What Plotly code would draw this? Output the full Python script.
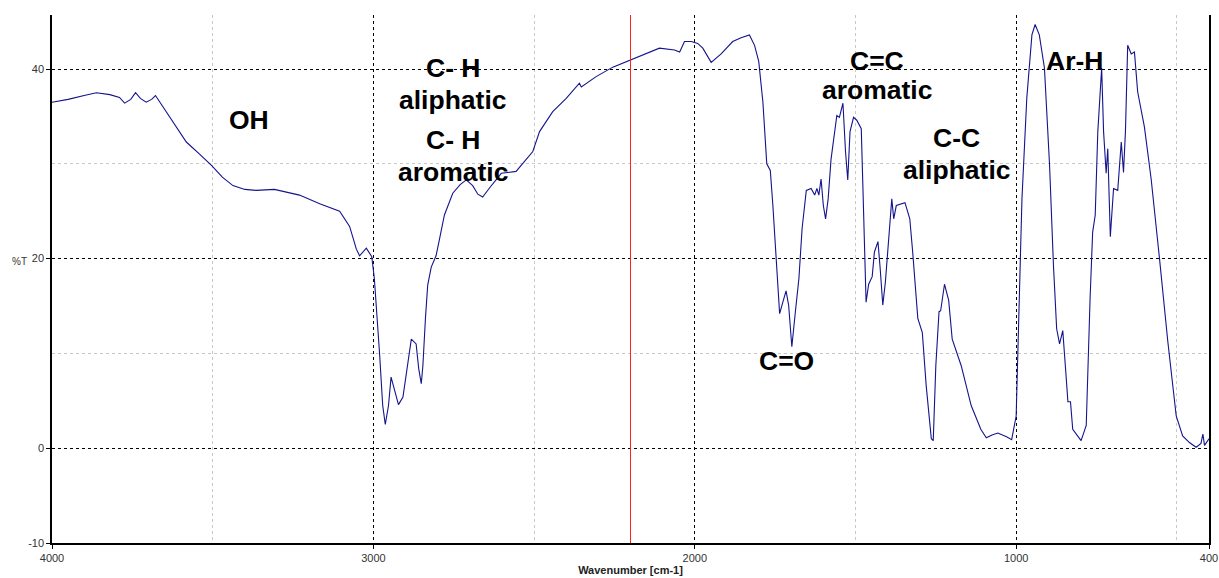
import plotly.graph_objects as go

# ---- data ----
wavenumber = [
    4000, 3950, 3900, 3862, 3820, 3790, 3774, 3755, 3740, 3725, 3707, 3690, 3678, 3660,
    3645, 3620, 3600, 3582, 3540, 3503, 3470, 3437, 3400, 3365, 3308, 3270, 3230, 3167,
    3105, 3074, 3053, 3043, 3022, 3005, 2997, 2981, 2971, 2963, 2953, 2945, 2937, 2922,
    2908, 2898, 2882, 2867, 2859, 2851, 2846, 2838, 2831, 2820, 2805, 2794, 2779, 2753,
    2730, 2711, 2691, 2675, 2660, 2640, 2618, 2602, 2556, 2530, 2504, 2483, 2442, 2400,
    2359, 2353, 2307, 2255, 2203, 2151, 2110, 2063, 2047, 2032, 2011, 1991, 1975, 1949,
    1918, 1882, 1856, 1830, 1814, 1801, 1788, 1776, 1765, 1757, 1746, 1736, 1726, 1716,
    1708, 1698, 1687, 1676, 1666, 1653, 1638, 1627, 1620, 1614, 1607, 1600, 1593, 1585,
    1576, 1565, 1558, 1550, 1539, 1531, 1524, 1517, 1506, 1496, 1482, 1477, 1472, 1467,
    1459, 1448, 1441, 1430, 1423, 1415, 1407, 1396, 1387, 1381, 1373, 1346, 1331, 1322,
    1306, 1292, 1280, 1264, 1258, 1250, 1240, 1235, 1223, 1210, 1199, 1171, 1140, 1110,
    1093, 1075, 1057, 1030, 1014, 1000, 993, 982, 967, 951, 941, 928, 912, 896, 884, 874,
    865, 855, 847, 839, 831, 824, 798, 782, 770, 762, 754, 746, 734, 728, 720, 715, 707,
    697, 684, 673, 666, 660, 653, 642, 632, 622, 601, 580, 554, 528, 502, 482, 461, 440,
    425, 419, 414, 405, 400,
]
transmittance = [
    36.5, 36.8, 37.2, 37.5, 37.3, 37.0, 36.4, 36.8, 37.5, 36.9, 36.5, 36.8, 37.2, 36.3,
    35.5, 34.2, 33.2, 32.3, 31.0, 29.8, 28.6, 27.7, 27.3, 27.2, 27.3, 27.0, 26.7, 25.8,
    25.0, 23.4, 21.0, 20.3, 21.1, 20.2, 17.9, 10.1, 4.5, 2.5, 4.5, 7.5, 6.4, 4.6,
    5.4, 7.7, 11.5, 11.0, 8.4, 6.8, 8.7, 13.7, 17.2, 19.1, 20.3, 22.1, 24.6, 26.9,
    27.8, 28.3, 27.7, 26.8, 26.5, 27.4, 28.3, 29.0, 29.2, 30.2, 31.3, 33.4, 35.5, 36.9,
    38.5, 38.1, 39.2, 40.2, 40.9, 41.6, 42.2, 42.0, 41.8, 42.9, 42.9, 42.7, 42.2, 40.7,
    41.6, 42.9, 43.3, 43.6, 42.5, 40.8, 36.5, 30.0, 29.3, 25.6, 19.6, 14.2, 15.4, 16.6,
    15.1, 10.7, 14.4, 17.9, 23.2, 27.2, 27.4, 26.7, 27.4, 26.7, 28.4, 25.6, 24.2, 26.3,
    30.5, 33.7, 35.1, 34.9, 36.4, 31.3, 28.3, 33.4, 34.9, 34.6, 33.7, 27.7, 20.0, 15.4,
    17.3, 18.1, 20.7, 21.8, 18.9, 15.1, 17.5, 22.1, 26.3, 24.2, 25.6, 25.9, 24.2, 20.7,
    13.7, 12.2, 6.6, 1.0, 0.8, 8.7, 14.4, 14.5, 17.3, 15.6, 11.5, 8.7, 4.5, 2.0,
    1.1, 1.4, 1.6, 1.2, 0.9, 3.4, 12.2, 26.3, 36.9, 43.6, 44.7, 43.6, 40.1, 29.8, 19.3, 12.6,
    11.0, 12.4, 8.7, 4.9, 4.9, 2.0, 0.8, 2.4, 15.8, 22.8, 24.6, 33.4, 40.1, 33.4, 29.0, 31.6, 22.3,
    27.4, 27.2, 32.3, 29.1, 33.4, 42.5, 41.6, 41.8, 37.6, 33.9, 28.4, 20.0, 11.2, 3.4, 1.3, 0.6, 0.1,
    0.5, 1.5, 0.3, 0.8, 1.0,
]

# band labels (one entry per text line)
label_text = ["OH", "C- H", "aliphatic", "C- H", "aromatic", "C=C", "aromatic",
              "C=O", "C-C", "aliphatic", "Ar-H"]
label_wn = [3386, 2751, 2751, 2751, 2751, 1434, 1434, 1716, 1185, 1185, 819]
label_t = [34.6, 40.1, 36.7, 32.5, 29.1, 40.8, 37.8, 9.25, 32.7, 29.3, 40.9]

x_tickvals = [4000, 3000, 2000, 1000, 400]
x_minor = [3500, 2500, 1500, 500]
y_tickvals = [-10, 0, 20, 40]
y_minor = [10, 30]
marker_wn = 2200

fig = go.Figure()
fig.add_trace(go.Scatter(
    x=wavenumber, y=transmittance, mode="lines",
    line=dict(color="#14148c", width=1.1), showlegend=False, hoverinfo="skip",
))

fig.add_vline(x=marker_wn, line=dict(color="#ff2020", width=1))

for t, xw, yt in zip(label_text, label_wn, label_t):
    fig.add_annotation(x=xw, y=yt, text="<b>%s</b>" % t, showarrow=False,
                       font=dict(family="Arial, Liberation Sans", size=26.5, color="black"),
                       xanchor="center", yanchor="middle")

fig.add_annotation(xref="paper", x=-0.028, y=19.7, text="%T", showarrow=False,
                   font=dict(family="Arial, Liberation Sans", size=10, color="#333"),
                   xanchor="center", yanchor="middle")

axis_font = dict(family="Arial, Liberation Sans", size=11, color="#333")

fig.update_xaxes(
    range=[4000, 400], tickvals=x_tickvals, ticktext=[str(v) for v in x_tickvals],
    showgrid=True, gridcolor="black", griddash="3px,3px", gridwidth=1,
    minor=dict(tickvals=x_minor, showgrid=True, gridcolor="#c8c8c8", griddash="3px,3px", ticks=""),
    showline=True, linecolor="black", linewidth=1.5, mirror=False,
    ticks="outside", ticklen=4, tickcolor="black", tickfont=axis_font,
    zeroline=False, automargin=False,
    title=dict(text="<b>Wavenumber [cm-1]</b>", standoff=2,
               font=dict(family="Arial, Liberation Sans", size=11, color="#222")),
)
fig.update_yaxes(
    range=[-10, 45.7], tickvals=y_tickvals, ticktext=[str(v) for v in y_tickvals],
    showgrid=True, gridcolor="black", griddash="3px,3px", gridwidth=1,
    minor=dict(tickvals=y_minor, showgrid=True, gridcolor="#c8c8c8", griddash="3px,3px", ticks=""),
    showline=True, linecolor="black", linewidth=1.5, mirror=True,
    ticks="outside", ticklen=4, tickcolor="black", tickfont=axis_font,
    zeroline=False, automargin=False,
)

fig.update_layout(
    width=1219, height=578,
    margin=dict(l=52, r=10, t=15, b=35, autoexpand=False),
    plot_bgcolor="white", paper_bgcolor="white",
    font=dict(family="Arial, Liberation Sans"),
)

fig.write_html("out.html")
